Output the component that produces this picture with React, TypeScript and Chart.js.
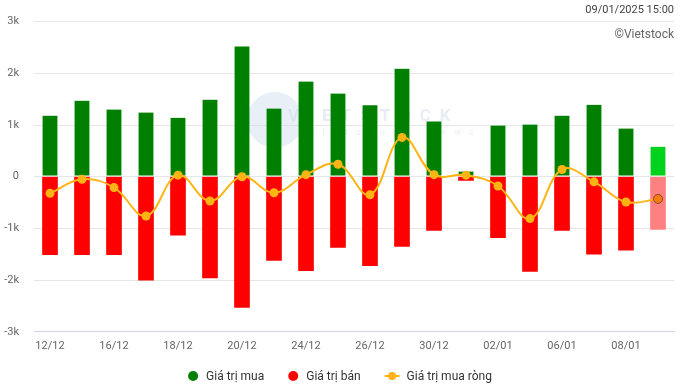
import React, { useEffect, useRef } from "react";
import { Chart, registerables } from "chart.js";

Chart.register(...registerables);

const categories = [
  "12/12", "13/12", "16/12", "17/12", "18/12", "19/12", "20/12", "23/12", "24/12", "25/12",
  "26/12", "27/12", "30/12", "31/12", "02/01", "03/01", "06/01", "07/01", "08/01", "09/01",
];
const buyValues = [1180, 1470, 1300, 1240, 1140, 1490, 2520, 1320, 1840, 1610, 1380, 2090, 1070, 100, 990, 1010, 1180, 1390, 930, 580];
const sellValues = [-1510, -1510, -1510, -2000, -1130, -1960, -2530, -1620, -1820, -1370, -1720, -1350, -1040, -70, -1180, -1830, -1040, -1500, -1420, -1020];
const netValues = [-320, -50, -210, -760, 30, -470, 0, -310, 40, 240, -350, 760, 40, 30, -180, -810, 140, -100, -490, -430];
const yMin = -3000;
const yMax = 3000;
const yStep = 1000;
const legendLabels = ["Giá trị mua", "Giá trị bán", "Giá trị mua ròng"];
const timestampText = "09/01/2025 15:00";
const creditText = "©Vietstock";

const BUY = "#008000";
const BUY_LAST = "#00D21E";
const SELL = "#FF0000";
const SELL_LAST = "#FF8080";
const NET = "#FDB414";
const NET_LAST = "#F57C12";
const FONT = "Roboto, 'Noto Sans', sans-serif";

const lastIdx = categories.length - 1;

const overlayPlugin = {
  id: "overlay",
  beforeDatasetsDraw(chart: any) {
    const ctx = chart.ctx as CanvasRenderingContext2D;
    ctx.save();
    ctx.fillStyle = "rgba(205,220,238,0.45)";
    ctx.beginPath();
    ctx.arc(275, 120, 28, 0, Math.PI * 2);
    ctx.fill();
    ctx.font = `bold 17px ${FONT}`;
    (ctx as any).letterSpacing = "9px";
    ctx.fillStyle = "rgba(205,215,232,0.45)";
    ctx.textBaseline = "middle";
    ctx.textAlign = "left";
    ctx.fillText("VIETSTOCK", 288, 117);
    ctx.font = `9px ${FONT}`;
    (ctx as any).letterSpacing = "8px";
    ctx.fillText("vietstock news", 310, 133);
    ctx.restore();
  },
  afterDraw(chart: any) {
    const ctx = chart.ctx as CanvasRenderingContext2D;
    ctx.save();
    ctx.textBaseline = "middle";
    ctx.textAlign = "right";
    ctx.font = `11px ${FONT}`;
    ctx.fillStyle = "#444";
    ctx.fillText(timestampText, 674, 10);
    ctx.font = `12px ${FONT}`;
    ctx.fillStyle = "#666";
    ctx.fillText(creditText, 674, 35);

    // legend
    ctx.font = `12px ${FONT}`;
    ctx.textAlign = "left";
    const items = legendLabels.map((t, i) => {
      const sym = i < 2 ? 10 : 15;
      const gap = i < 2 ? 8 : 7;
      return { t, sym, gap, w: sym + gap + ctx.measureText(t).width };
    });
    const spacing = 24;
    const total = items.reduce((s, it) => s + it.w, 0) + spacing * (items.length - 1);
    let x = 340 - total / 2;
    const y = 376;
    const colors = [BUY, SELL, NET];
    items.forEach((it, i) => {
      if (i < 2) {
        ctx.fillStyle = colors[i];
        ctx.beginPath();
        ctx.arc(x + 5, y, 5, 0, Math.PI * 2);
        ctx.fill();
      } else {
        ctx.strokeStyle = NET;
        ctx.lineWidth = 2;
        ctx.beginPath();
        ctx.moveTo(x, y);
        ctx.lineTo(x + it.sym, y);
        ctx.stroke();
        ctx.fillStyle = NET;
        ctx.beginPath();
        ctx.arc(x + it.sym / 2, y, 4, 0, Math.PI * 2);
        ctx.fill();
      }
      ctx.fillStyle = "#333";
      ctx.fillText(it.t, x + it.sym + it.gap, y + 1);
      x += it.w + spacing;
    });
    ctx.restore();
  },
};

export default function App() {
  const ref = useRef<HTMLCanvasElement | null>(null);
  useEffect(() => {
    if (!ref.current) return;
    const chart = new Chart(ref.current, {
      type: "bar",
      data: {
        labels: categories,
        datasets: [
          {
            type: "line",
            label: legendLabels[2],
            data: netValues,
            borderColor: NET,
            borderWidth: 2,
            tension: 0.4,
            pointRadius: 4.5,
            pointBackgroundColor: netValues.map((_, i) => (i === lastIdx ? NET_LAST : NET)),
            pointBorderColor: netValues.map((_, i) => (i === lastIdx ? "#8A4A20" : NET)),
            pointBorderWidth: netValues.map((_, i) => (i === lastIdx ? 1 : 0)),
            order: 0,
          } as any,
          {
            type: "bar",
            label: legendLabels[0],
            data: buyValues,
            backgroundColor: buyValues.map((_, i) => (i === lastIdx ? BUY_LAST : BUY)),
            borderColor: "#ffffff",
            borderWidth: { top: 0, left: 0, right: 0, bottom: 1 },
            borderSkipped: false,
            barThickness: 15,
            order: 1,
          } as any,
          {
            type: "bar",
            label: legendLabels[1],
            data: sellValues,
            backgroundColor: sellValues.map((_, i) => (i === lastIdx ? SELL_LAST : SELL)),
            borderWidth: 0,
            barThickness: 15,
            order: 2,
          } as any,
        ],
      },
      options: {
        animation: false,
        responsive: false,
        layout: { padding: { top: 16, right: 6, bottom: 28, left: 0 } },
        plugins: {
          legend: { display: false },
          tooltip: { enabled: false },
          title: { display: false },
        },
        scales: {
          x: {
            stacked: true,
            grid: { display: false, drawTicks: false },
            border: { display: true, color: "#ccd6eb", width: 1 },
            ticks: {
              autoSkip: false,
              maxRotation: 0,
              padding: 8,
              color: "#666",
              font: { family: FONT, size: 11 },
              callback: (_v: any, i: number) => (i % 2 === 0 ? categories[i] : ""),
            },
          },
          y: {
            min: yMin,
            max: yMax,
            grid: { color: "#e6e6e6", lineWidth: 1, drawTicks: false },
            border: { display: false },
            ticks: {
              stepSize: yStep,
              padding: 15,
              color: "#666",
              font: { family: FONT, size: 11 },
              callback: (v: any) => (v === 0 ? "0" : `${v / 1000}k`),
            },
            afterFit: (scale: any) => {
              scale.width = 34;
            },
          },
        },
      },
      plugins: [overlayPlugin],
    } as any);
    return () => chart.destroy();
  }, []);
  return (
    <div style={{ position: "fixed", left: 0, top: 0, width: 680, height: 389, background: "#fff" }}>
      <canvas ref={ref} width={680} height={389} />
    </div>
  );
}
